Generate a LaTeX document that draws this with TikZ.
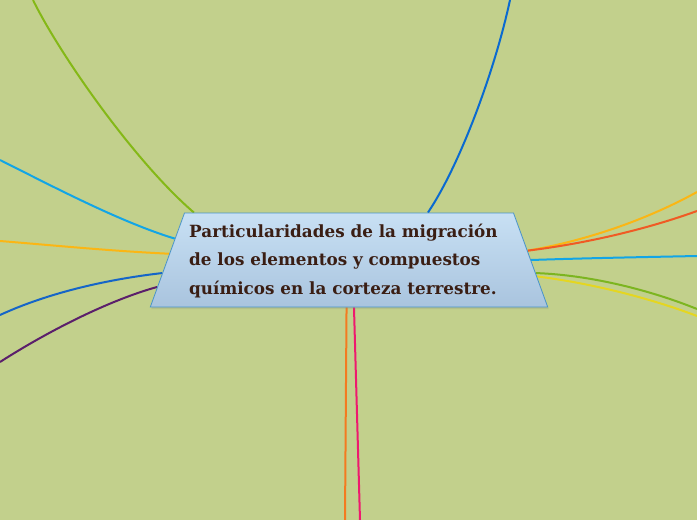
\documentclass[tikz,border=0pt]{standalone}
\usepackage{fontspec}
\setmainfont{DejaVu Serif}
\usetikzlibrary{shapes.geometric,shadows,backgrounds}

% colours of the map
\definecolor{mapbg}{HTML}{C2D08C}
\definecolor{hubtop}{HTML}{C8E0F4}
\definecolor{hubbot}{HTML}{A9C4DE}
\definecolor{hubline}{HTML}{4A94C8}
\definecolor{hubtext}{HTML}{3A1E14}
\definecolor{cGreen}{HTML}{84B817}
\definecolor{cBlue}{HTML}{0A6AD0}
\definecolor{cSky}{HTML}{12A5E6}
\definecolor{cAmber}{HTML}{FBB614}
\definecolor{cNavy}{HTML}{1565C8}
\definecolor{cPurple}{HTML}{5B1F6B}
\definecolor{cRed}{HTML}{F05A24}
\definecolor{cLime}{HTML}{7CB520}
\definecolor{cYellow}{HTML}{E5D620}
\definecolor{cOrange}{HTML}{F47A20}
\definecolor{cPink}{HTML}{EE1A6E}

\tikzset{
  branch/.style={line width=2pt},
  hubbox/.style={trapezium, trapezium left angle=70, trapezium right angle=70,
    inner sep=0pt, draw=hubline, line width=0.8pt, top color=hubtop, bottom color=hubbot,
    drop shadow={opacity=0.2, shadow xshift=1pt, shadow yshift=-2pt}},
  hubtitle/.style={anchor=west, align=left, inner sep=0pt, text=hubtext,
    font=\bfseries\fontsize{16.8}{28.5}\selectfont}
}

\begin{document}
\begin{tikzpicture}[x=1pt,y=-1pt]
\begin{scope}[on background layer]
\fill[mapbg] (0,0) rectangle (697,520);
\end{scope}
\useasboundingbox (0,0) rectangle (697,520);

% central topic (box 329 wide on top, 94 high)
\node[hubbox] (hub) at (349,260) {\rule{0pt}{94pt}\hspace*{329pt}};
\node[hubtitle] (title) at (189,261) {Particularidades de la migración\\de los elementos y compuestos\\químicos en la corteza terrestre.};

% free ends of the branches
\coordinate (leafNW) at (33,0);
\coordinate (leafN) at (510,0);
\coordinate (leafW1) at (0,160);
\coordinate (leafW2) at (0,241);
\coordinate (leafW3) at (0,315);
\coordinate (leafW4) at (0,362);
\coordinate (leafE1) at (697,192);
\coordinate (leafE2) at (697,211);
\coordinate (leafE3) at (697,256);
\coordinate (leafE4) at (697,309);
\coordinate (leafE5) at (697,316);
\coordinate (leafS1) at (345,520);
\coordinate (leafS2) at (360,520);

% branches, behind the topic
\begin{scope}[on background layer]
\draw[branch, cGreen] (hub.163.2) .. controls (135,162) and (60,55) .. (leafNW);
\draw[branch, cBlue] (hub.31.1) .. controls (460,165) and (495,70) .. (leafN);
\draw[branch, cSky] (hub.173.4) .. controls (120,222) and (50,185) .. (leafW1);
\draw[branch, cAmber] (hub.178.7) .. controls (110,251) and (50,245) .. (leafW2);
\draw[branch, cNavy] (hub.184) .. controls (110,279) and (50,292) .. (leafW3);
\draw[branch, cPurple] (hub.188) .. controls (110,300) and (50,330) .. (leafW4);
\draw[branch, cAmber] (hub.3.9) .. controls (590,240) and (650,218) .. (leafE1);
\draw[branch, cRed] (hub.3.2) .. controls (590,243) and (650,228) .. (leafE2);
\draw[branch, cSky] (hub.0.3) .. controls (590,258) and (650,257) .. (leafE3);
\draw[branch, cLime] (hub.356.9) .. controls (590,275) and (650,290) .. (leafE4);
\draw[branch, cYellow] (hub.355.7) .. controls (590,283) and (650,298) .. (leafE5);
\draw[branch, cOrange] (hub.267.6) -- (leafS1);
\draw[branch, cPink] (hub.276.1) -- (leafS2);
\end{scope}
\end{tikzpicture}
\end{document}
